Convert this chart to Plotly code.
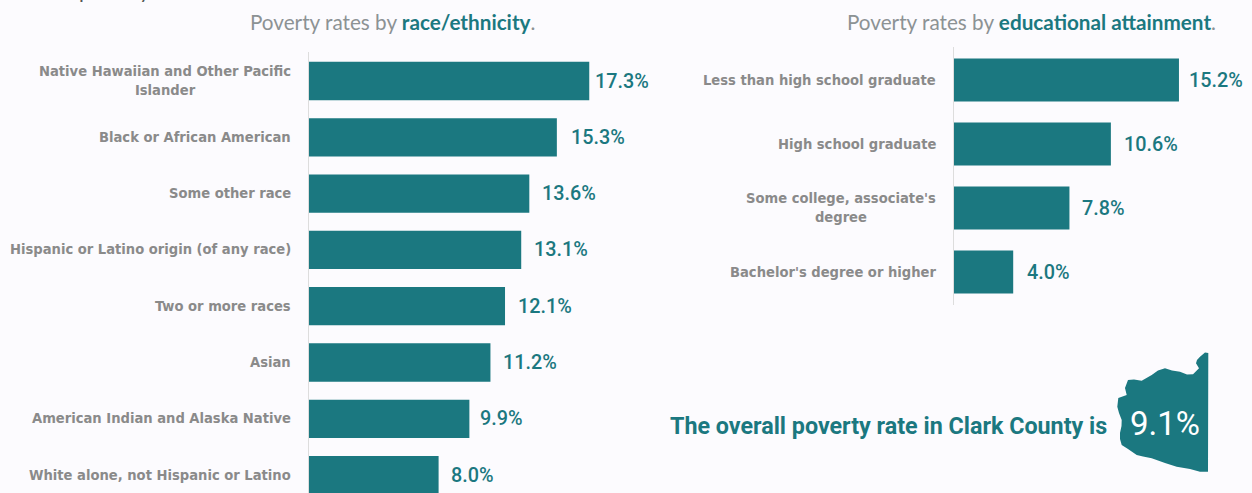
import plotly.graph_objects as go

# Poverty rates, percent of population
race_labels = [
    "Native Hawaiian and Other Pacific<br>Islander",
    "Black or African American",
    "Some other race",
    "Hispanic or Latino origin (of any race)",
    "Two or more races",
    "Asian",
    "American Indian and Alaska Native",
    "White alone, not Hispanic or Latino",
]
race_values = [17.3, 15.3, 13.6, 13.1, 12.1, 11.2, 9.9, 8.0]

edu_labels = [
    "Less than high school graduate",
    "High school graduate",
    "Some college, associate's<br>degree",
    "Bachelor's degree or higher",
]
edu_values = [15.2, 10.6, 7.8, 4.0]

overall_rate = "9.1%"

W, H = 1252, 493
TEAL = "#1B7880"
GREY = "#8A8A8A"
BG = "#FCFBFE"
LABEL_FONT = "DejaVu Sans Condensed"
HEAD_FONT = "Lato"
VALUE_FONT = "Roboto"


def px(x):
    return x / W


def py(y):
    return 1 - y / H


fig = go.Figure()
fig.add_trace(go.Bar(x=race_values, y=list(range(len(race_values))), orientation="h",
                     marker=dict(color=TEAL, line=dict(width=0)), xaxis="x", yaxis="y",
                     hoverinfo="skip"))
fig.add_trace(go.Bar(x=edu_values, y=list(range(len(edu_values))), orientation="h",
                     marker=dict(color=TEAL, line=dict(width=0)), xaxis="x2", yaxis="y2",
                     hoverinfo="skip"))

annotations = []


def label_panel(labels, values, xref, yref, shifts):
    for i, (lab, val) in enumerate(zip(labels, values)):
        annotations.append(dict(x=0, y=i, xref=xref, yref=yref, text=lab, showarrow=False,
                                xanchor="right", xshift=-18, yshift=1, align="center",
                                font=dict(family=LABEL_FONT, size=14.6, color=GREY, weight=700),
                                borderpad=0, borderwidth=0))
        annotations.append(dict(x=val, y=i, xref=xref, yref=yref, text=f"{val:.1f}%",
                                showarrow=False, xanchor="left", xshift=shifts[i],
                                font=dict(family=VALUE_FONT, size=19.8, color=TEAL, weight=500),
                                borderpad=0, borderwidth=0))


label_panel(race_labels, race_values, "x", "y", [6, 14, 13, 13, 13, 13, 11, 12])
label_panel(edu_labels, edu_values, "x2", "y2", [10, 13, 13, 14])

# Panel headings
for text, right in [
    ("Poverty rates by <b style='color:%s'>race/ethnicity</b>." % TEAL, 537),
    ("Poverty rates by <b style='color:%s'>educational attainment</b>." % TEAL, 1218),
]:
    annotations.append(dict(x=px(right), y=py(22), xref="paper", yref="paper", text=text,
                            showarrow=False, xanchor="right", yanchor="middle",
                            font=dict(family=HEAD_FONT, size=20.7, color="#8C9294")))

# Tail of the sentence running off the top edge
annotations.append(dict(x=px(156), y=py(-10), xref="paper", yref="paper", text="poverty.",
                        showarrow=False, xanchor="right", yanchor="middle",
                        font=dict(family=HEAD_FONT, size=21, color="#555555")))

# Callout beside the county outline
annotations.append(dict(x=px(1109), y=py(426), xref="paper", yref="paper",
                        text="<b>The overall poverty rate in Clark County is</b>",
                        showarrow=False, xanchor="right", yanchor="middle",
                        font=dict(family=VALUE_FONT, size=23.3, color=TEAL)))
annotations.append(dict(x=px(1164.5), y=py(423), xref="paper", yref="paper", text=overall_rate,
                        showarrow=False, xanchor="center", yanchor="middle",
                        font=dict(family=VALUE_FONT, size=33, color="#FFFFFF")))

# Simplified county outline, pixel vertices converted to paper space
county = [
    (1205, 352.5), (1208.3, 353), (1208, 471.7), (1200, 471.7), (1190, 469), (1176.7, 466.7),
    (1165, 463), (1151.7, 458.3), (1143, 456.5), (1136.7, 455), (1128, 449), (1121.7, 445),
    (1120, 439), (1120, 433), (1121.5, 426), (1121.7, 420), (1119, 413), (1117.3, 406.7),
    (1118.3, 398), (1126.7, 395), (1125, 388), (1128, 380), (1134, 379.5), (1141.7, 380.7),
    (1151.7, 375), (1158, 370.5), (1165, 368.3), (1172, 370.5), (1180, 371.7), (1187, 374.5),
    (1193, 374.3), (1199, 368.3), (1196, 363.3), (1197, 360), (1200, 356.7),
]
path = "M " + " L ".join(f"{px(x):.5f},{py(y):.5f}" for x, y in county) + " Z"

axis_line = "#DDDDDD"
fig.update_layout(
    width=W, height=H, autosize=False, showlegend=False, barmode="overlay",
    margin=dict(l=0, r=0, t=0, b=0),
    paper_bgcolor=BG, plot_bgcolor=BG,
    annotations=annotations,
    shapes=[dict(type="path", path=path, xref="paper", yref="paper",
                 fillcolor=TEAL, line=dict(width=0), layer="below")],
    xaxis=dict(domain=[px(309), px(650)], range=[0, 341 / 16.2], visible=False),
    yaxis=dict(domain=[0, py(52)], range=[(493 - 81) / 56.3, (52 - 81) / 56.3],
               showticklabels=False, ticks="", showgrid=False, zeroline=False,
               showline=True, linecolor=axis_line, linewidth=1, anchor="x"),
    xaxis2=dict(domain=[px(954), px(1240)], range=[0, 286 / 14.8], visible=False, anchor="y2"),
    yaxis2=dict(domain=[py(305), py(47)], range=[(305 - 80) / 64, (47 - 80) / 64],
                showticklabels=False, ticks="", showgrid=False, zeroline=False,
                showline=True, linecolor=axis_line, linewidth=1, anchor="x2"),
)
fig.update_traces(width=0.68, selector=dict(xaxis="x"))
fig.update_traces(width=0.67, selector=dict(xaxis="x2"))

fig.write_html("out.html", config=dict(displayModeBar=False))
